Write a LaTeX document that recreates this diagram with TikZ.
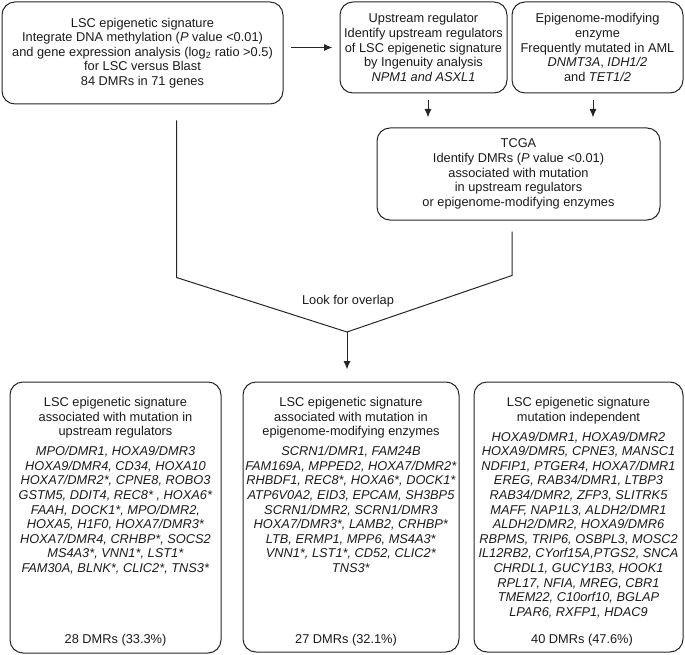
\documentclass[tikz,border=0pt]{standalone}
\usepackage{fontspec}
\setmainfont{Liberation Sans}
\usetikzlibrary{arrows.meta}
\definecolor{linec}{HTML}{262626}
\definecolor{textc}{HTML}{1A1A1A}
\newcommand\dgfont{\fontsize{12.8}{14.6}\selectfont}
\begin{document}
\begin{tikzpicture}[x=1pt,y=-1pt,
  box/.style={draw=linec, line width=1pt, rounded corners=13pt, inner sep=0pt, align=center, font=\dgfont, text=textc},
  txt/.style={inner sep=0pt, align=center, font=\dgfont, text=textc},
  arr/.style={draw=linec, line width=1pt, -{Latex[length=8.5pt,width=7pt]}},
  conn/.style={draw=linec, line width=1pt}]
\useasboundingbox (0,0) rectangle (685,655);

% top row
\node[box, minimum width=281pt, minimum height=102pt] (A) at (142.5,53)
  {LSC epigenetic signature\\
   Integrate DNA methylation (\textit{P} value <0.01)\\
   and gene expression analysis (log\textsubscript{2} ratio >0.5)\\
   for LSC versus Blast\\
   84 DMRs in 71 genes};
\node[box, minimum width=167pt, minimum height=91pt] (B) at (423.5,47.5)
  {Upstream regulator\\
   Identify upstream regulators\\
   of LSC epigenetic signature\\
   by Ingenuity analysis\\
   \textit{NPM1 and ASXL1}};
\node[box, minimum width=171pt, minimum height=91pt] (C) at (597.5,47.5)
  {Epigenome-modifying\\
   enzyme\\
   Frequently mutated in AML\\
   \textit{DNMT3A}, \textit{IDH1/2}\\
   and \textit{TET1/2}};
\node[box, minimum width=283pt, minimum height=92pt] (T) at (518.5,174)
  {TCGA\\
   Identify DMRs (\textit{P} value <0.01)\\
   associated with mutation\\
   in upstream regulators\\
   or epigenome-modifying enzymes};

% bottom row boxes
\node[box, minimum width=211pt, minimum height=271pt] (b1) at (115.5,517.5) {};
\node[box, minimum width=216pt, minimum height=270pt] (b2) at (351,517) {};
\node[box, minimum width=209pt, minimum height=270pt] (b3) at (578.5,517) {};

\node[txt, anchor=north] (t1) at (115.5,397)
  {LSC epigenetic signature\\
   associated with mutation in\\
   upstream regulators\\[5.4pt]
   \textit{MPO/DMR1, HOXA9/DMR3}\\
   \textit{HOXA9/DMR4, CD34, HOXA10}\\
   \textit{HOXA7/DMR2*, CPNE8, ROBO3}\\
   \textit{GSTM5, DDIT4, REC8* , HOXA6*}\\
   \textit{FAAH, DOCK1*, MPO/DMR2,}\\
   \textit{HOXA5, H1F0, HOXA7/DMR3*}\\
   \textit{HOXA7/DMR4, CRHBP*, SOCS2}\\
   \textit{MS4A3*, VNN1*, LST1*}\\
   \textit{FAM30A, BLNK*, CLIC2*, TNS3*}};
\node[txt, anchor=north] (t2) at (351,397)
  {LSC epigenetic signature\\
   associated with mutation in\\
   epigenome-modifying enzymes\\[5.4pt]
   \textit{SCRN1/DMR1, FAM24B}\\
   \textit{FAM169A, MPPED2, HOXA7/DMR2*}\\
   \textit{RHBDF1, REC8*, HOXA6*, DOCK1*}\\
   \textit{ATP6V0A2, EID3, EPCAM, SH3BP5}\\
   \textit{SCRN1/DMR2, SCRN1/DMR3}\\
   \textit{HOXA7/DMR3*, LAMB2, CRHBP*}\\
   \textit{LTB, ERMP1, MPP6, MS4A3*}\\
   \textit{VNN1*, LST1*, CD52, CLIC2*}\\
   \textit{TNS3*}};
\node[txt, anchor=north] (t3) at (578.5,397)
  {LSC epigenetic signature\\
   mutation independent\\[5.4pt]
   \textit{HOXA9/DMR1, HOXA9/DMR2}\\
   \textit{HOXA9/DMR5, CPNE3, MANSC1}\\
   \textit{NDFIP1, PTGER4, HOXA7/DMR1}\\
   \textit{EREG, RAB34/DMR1, LTBP3}\\
   \textit{RAB34/DMR2, ZFP3, SLITRK5}\\
   \textit{MAFF, NAP1L3, ALDH2/DMR1}\\
   \textit{ALDH2/DMR2, HOXA9/DMR6}\\
   \textit{RBPMS, TRIP6, OSBPL3, MOSC2}\\
   \textit{IL12RB2, CYorf15A,PTGS2, SNCA}\\
   \textit{CHRDL1, GUCY1B3, HOOK1}\\
   \textit{RPL17, NFIA, MREG, CBR1}\\
   \textit{TMEM22, C10orf10, BGLAP}\\
   \textit{LPAR6, RXFP1, HDAC9}};

\node[txt] (c1) at (115.5,640) {28 DMRs (33.3\%)};
\node[txt] (c2) at (346,640) {27 DMRs (32.1\%)};
\node[txt] (c3) at (582,640) {40 DMRs (47.6\%)};

\node[txt] (lbl) at (348,301) {Look for overlap};
\coordinate (m) at (347,332);

% connectors
\draw[arr, shorten <=7pt, shorten >=7pt] (A.east |- B.west) -- (B.west);
\draw[arr, shorten <=7pt, shorten >=10pt] ([xshift=4.5pt]B.south) -- ([xshift=4.5pt]B.south |- T.north);
\draw[arr, shorten <=7pt, shorten >=10pt] ([xshift=-4.5pt]C.south) -- ([xshift=-4.5pt]C.south |- T.north);
\draw[conn, shorten <=16pt] ([xshift=34pt]A.south) -- ++(0,173) -- (m);
\draw[conn, shorten <=11pt] ([xshift=-6.5pt]T.south) -- ++(0,55) -- (m);
\draw[arr, shorten >=12pt] (m) -- (m |- b2.north);
\end{tikzpicture}
\end{document}
